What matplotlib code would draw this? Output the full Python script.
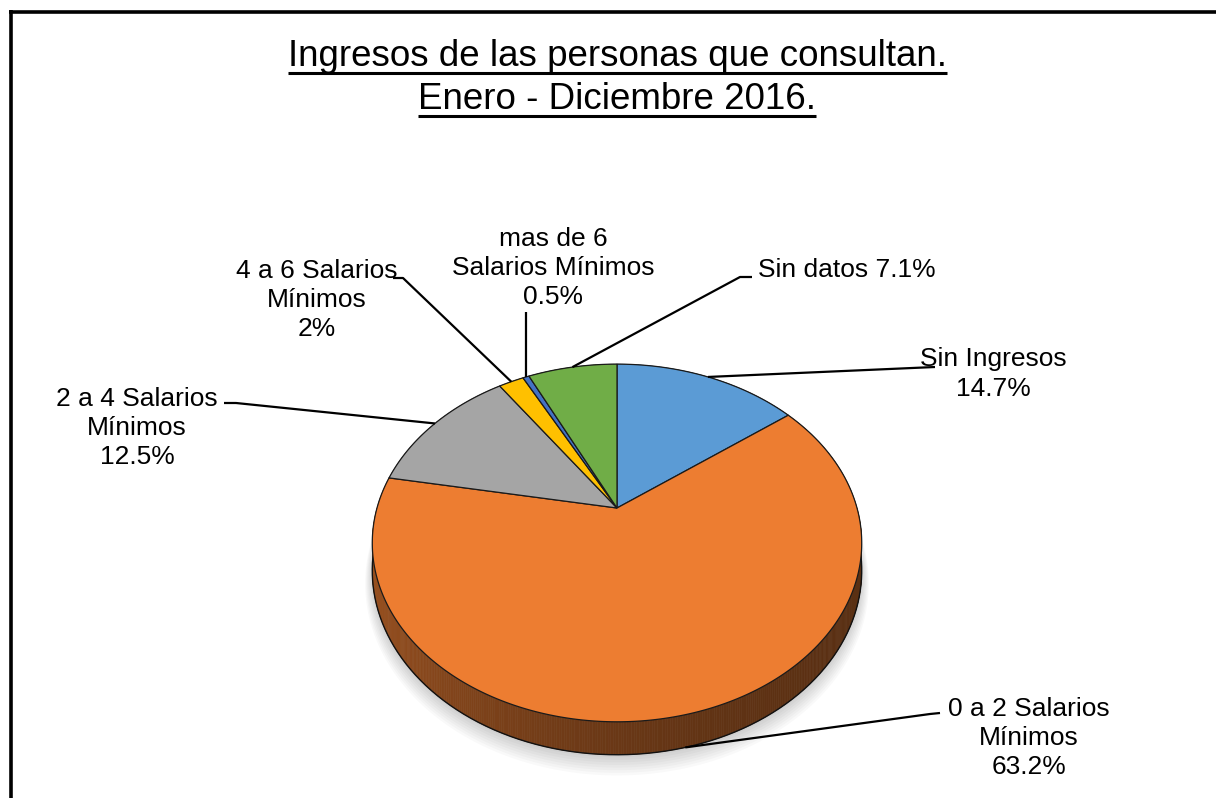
import numpy as np
import matplotlib
matplotlib.use('Agg')
import matplotlib.pyplot as plt
from matplotlib.patches import Polygon
from matplotlib.collections import PolyCollection
from matplotlib.colors import to_rgb

# Datos del grafico
categorias = ['Sin Ingresos', '0 a 2 Salarios Mínimos', '2 a 4 Salarios Mínimos',
              '4 a 6 Salarios Mínimos', 'mas de 6 Salarios Mínimos', 'Sin datos']
valores = [14.7, 63.2, 12.5, 2.0, 0.5, 7.1]
colores = ['#5B9BD5', '#ED7D31', '#A5A5A5', '#FFC000', '#4472C4', '#70AD47']
textos = ['Sin Ingresos\n14.7%', '0 a 2 Salarios\nMínimos\n63.2%', '2 a 4 Salarios\nMínimos\n12.5%',
          '4 a 6 Salarios\nMínimos\n2%', 'mas de 6\nSalarios Mínimos\n0.5%', 'Sin datos 7.1%']
titulo = ['Ingresos de las personas que consultan.', 'Enero - Diciembre 2016.']

# Posiciones de las etiquetas (pixeles) y punto donde empieza la guia
pos_texto = [(993, 374), (1029, 738), (137, 428), (317, 300), (553, 268), (847, 270)]
guia_texto = [[(935, 367)], [(940, 713), (930, 714)], [(224, 403), (236, 403)],
              [(393, 278), (403, 278)], [(526, 312)], [(752, 277), (740, 277)]]

# Geometria de la torta 3D (en pixeles)
W, H = 1216, 798
cx, cy = 617, 508
R = 240        # radio horizontal
cR = 172       # radio vertical (inclinacion)
k = 0.1955     # perspectiva
D = 26.5       # grosor

fig = plt.figure(figsize=(W / 100, H / 100), dpi=100)
ax = fig.add_axes([0, 0, 1, 1])
ax.set_xlim(0, W)
ax.set_ylim(H, 0)
ax.axis('off')


def proyectar(x, z, caida=0.0):
    w = 1 + k * z
    return cx + R * x / w, cy - cR * z / w + caida / w


# angulos de cada porcion (sentido horario desde arriba)
frac = np.array(valores) / sum(valores)
limites = 90 - 360 * np.concatenate([[0], np.cumsum(frac)])

# sombra
t = np.linspace(0, 2 * np.pi, 400)
for j in range(8):
    sx, sy = proyectar(np.cos(t) * (1 + 0.004 * j), np.sin(t) * (1 + 0.004 * j), D + 2 + j * 1.2)
    ax.add_patch(Polygon(np.column_stack([sx, sy]), closed=True, facecolor='black',
                         edgecolor='none', alpha=0.025, zorder=1))

# lados
quads, cols, zs = [], [], []
for i in range(len(valores)):
    a = np.radians(np.linspace(limites[i], limites[i + 1], max(4, int(frac[i] * 720))))
    base = np.array(to_rgb(colores[i]))
    for a1, a2 in zip(a[:-1], a[1:]):
        x1, y1 = proyectar(np.cos(a1), np.sin(a1))
        x2, y2 = proyectar(np.cos(a2), np.sin(a2))
        x3, y3 = proyectar(np.cos(a2), np.sin(a2), D)
        x4, y4 = proyectar(np.cos(a1), np.sin(a1), D)
        quads.append([(x1, y1), (x2, y2), (x3, y3), (x4, y4)])
        am = (a1 + a2) / 2
        f = 0.38 + 0.27 * ((1 - np.cos(am)) / 2) ** 2
        cols.append(base * f)
        zs.append(np.sin(am))
orden = np.argsort(zs)[::-1]
ax.add_collection(PolyCollection([quads[o] for o in orden], facecolors=[cols[o] for o in orden],
                                 edgecolors=[cols[o] for o in orden], linewidths=0.4, zorder=2))

# borde inferior
tb = np.linspace(np.pi, 2 * np.pi, 300)
bx, by = proyectar(np.cos(tb), np.sin(tb), D)
ax.plot(bx, by, color='#111111', lw=1.0, zorder=3)

# caras superiores
for i in range(len(valores)):
    a = np.radians(np.linspace(limites[i], limites[i + 1], max(4, int(frac[i] * 720))))
    px, py = proyectar(np.cos(a), np.sin(a))
    pts = [(cx, cy)] + list(zip(px, py))
    ax.add_patch(Polygon(pts, closed=True, facecolor=colores[i], edgecolor='#1a1a1a',
                         lw=0.9, joinstyle='miter', zorder=4))

# etiquetas y guias
for i in range(len(valores)):
    am = np.radians((limites[i] + limites[i + 1]) / 2)
    caida = D if np.sin(am) < -0.3 else 0.0
    ex, ey = proyectar(np.cos(am), np.sin(am), caida)
    linea = guia_texto[i] + [(ex, ey)]
    ax.plot([p[0] for p in linea], [p[1] for p in linea], color='black', lw=1.6,
            solid_capstyle='butt', zorder=5)
    ax.text(pos_texto[i][0], pos_texto[i][1], textos[i], ha='center', va='center',
            multialignment='center', fontsize=19, family=['Liberation Sans', 'DejaVu Sans'],
            linespacing=1.27, zorder=6)

# titulo subrayado
titulos = []
for j, linea in enumerate(titulo):
    tt = ax.text(617, 66 + 43 * j, linea, ha='center', va='baseline', fontsize=26.5,
                 family=['Liberation Sans', 'DejaVu Sans'], zorder=6)
    titulos.append(tt)
fig.canvas.draw()
ren = fig.canvas.get_renderer()
for j, tt in enumerate(titulos):
    bb = tt.get_window_extent(renderer=ren)
    ax.plot([bb.x0, bb.x1], [73 + 43 * j, 73 + 43 * j], color='black', lw=2.2,
            solid_capstyle='butt', zorder=6)

# marco
ax.plot([9, W], [11.5, 11.5], color='black', lw=2.6, solid_capstyle='butt', zorder=7)
ax.plot([10.5, 10.5], [10, H], color='black', lw=2.6, solid_capstyle='butt', zorder=7)

fig.savefig('out.png', dpi=100, facecolor='white')
